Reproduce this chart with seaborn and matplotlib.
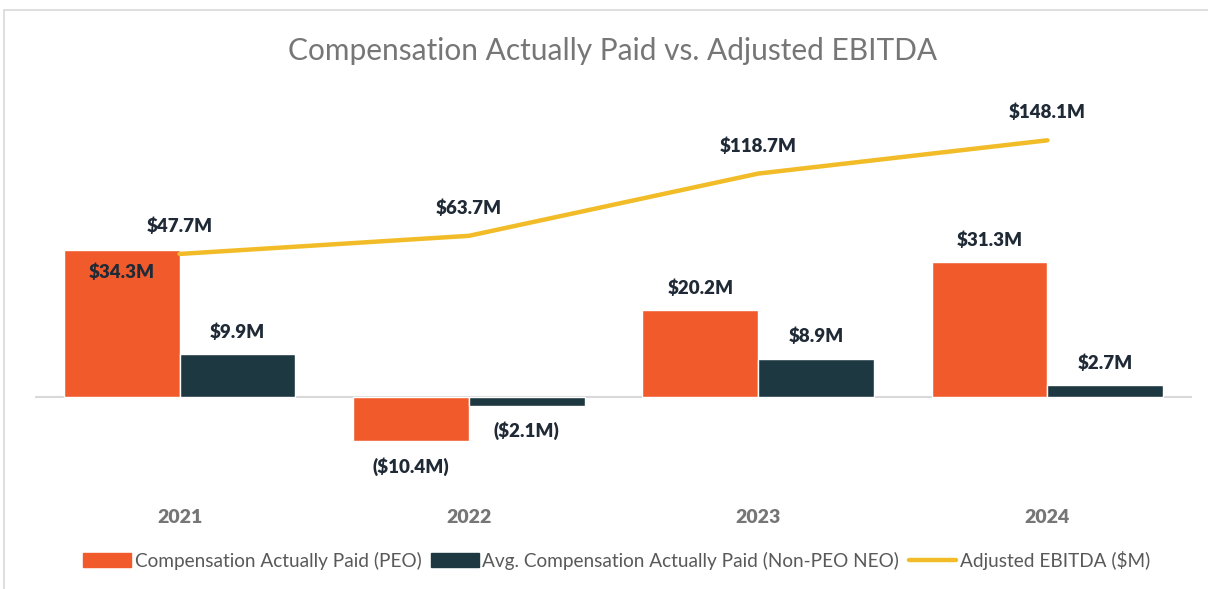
import numpy as np
import pandas as pd
import matplotlib as mpl
from matplotlib import pyplot as plt
from matplotlib.patches import Patch, Rectangle
from matplotlib.lines import Line2D
import seaborn as sns

years = ["2021", "2022", "2023", "2024"]
cap_peo = [34.3, -10.4, 20.2, 31.3]
cap_non_peo = [9.9, -2.1, 8.9, 2.7]
adj_ebitda = [47.7, 63.7, 118.7, 148.1]

series_names = ["Compensation Actually Paid (PEO)",
                "Avg. Compensation Actually Paid (Non-PEO NEO)",
                "Adjusted EBITDA ($M)"]

ORANGE = "#F15B2C"
DARK = "#1E3841"
YELLOW = "#F1BC27"
LABEL_C = "#1F2A36"
GRAY = "#767676"


def fmt(v):
    return f"(${abs(v):.1f}M)" if v < 0 else f"${v:.1f}M"


sns.set_style("white")
plt.rcParams['font.family'] = ['Lato', 'DejaVu Sans']

df = pd.DataFrame({
    "year": years * 2,
    "value": cap_peo + cap_non_peo,
    "series": [series_names[0]] * 4 + [series_names[1]] * 4,
})

fig = plt.figure(figsize=(12.08, 5.89), dpi=100)
ax = fig.add_axes([35 / 1208, 1 - 491 / 589, 1157 / 1208, 403 / 589])

sns.barplot(data=df, x="year", y="value", hue="series", order=years,
            hue_order=series_names[:2], palette=[ORANGE, DARK],
            width=0.8, saturation=1, ax=ax, legend=False)

# secondary axis for the EBITDA line
ax2 = ax.twinx()
sns.lineplot(x=np.arange(len(years)), y=adj_ebitda, color=YELLOW, lw=3.2,
             ax=ax2, solid_capstyle="round")

ax.set_xlim(-0.5, 3.5)
ax.set_ylim(-22, 72)
ax2.set_ylim((-22 - 20.7) / 0.264, (72 - 20.7) / 0.264)

ax.axhline(0, color="#D9D9D9", lw=1.5, zorder=0.5)

for a in (ax, ax2):
    a.set_yticks([])
    a.set_ylabel("")
    for s in a.spines.values():
        s.set_visible(False)
ax.set_xlabel("")
ax.tick_params(axis="x", length=0, pad=13)
for t in ax.get_xticklabels():
    t.set_fontweight("heavy")
    t.set_color(GRAY)
    t.set_fontsize(14)

# bar labels
for ci, cont in enumerate(ax.containers):
    for bi, patch in enumerate(cont.patches):
        v = (cap_peo, cap_non_peo)[ci][bi]
        x = patch.get_x() + patch.get_width() / 2
        if ci == 0 and bi == 0:
            off = -16  # sits inside the bar, under the line label
        elif v < 0:
            off = -18
        else:
            off = 16
        ax.annotate(fmt(v), (x, v), xytext=(0, off), textcoords="offset points",
                    ha="center", va="center", fontsize=13.5, fontweight="heavy",
                    color=LABEL_C)

for i, v in enumerate(adj_ebitda):
    ax2.annotate(fmt(v), (i, v), xytext=(0, 20), textcoords="offset points",
                 ha="center", va="center", fontsize=13.5, fontweight="heavy",
                 color=LABEL_C)

fig.text(613 / 1208, 1 - 51 / 589, "Compensation Actually Paid vs. Adjusted EBITDA",
         ha="center", va="center", fontsize=21.5, color="#767676")

handles = [Patch(color=ORANGE), Patch(color=DARK),
           Line2D([], [], color=YELLOW, lw=3.2, solid_capstyle="round")]
fig.legend(handles, series_names, loc="center", bbox_to_anchor=(617 / 1208, 1 - 560 / 589),
           ncol=3, frameon=False, fontsize=13.7, handlelength=2.5, handleheight=0.8,
           handletextpad=0.2, columnspacing=0.5, labelcolor="#595959")

fig.add_artist(Rectangle((4 / 1208, -0.1), 1.2, 1 - 10 / 589 + 0.1,
                         transform=fig.transFigure, fill=False,
                         edgecolor="#D9D9D9", lw=1.2))

fig.savefig("out.png", dpi=100)
